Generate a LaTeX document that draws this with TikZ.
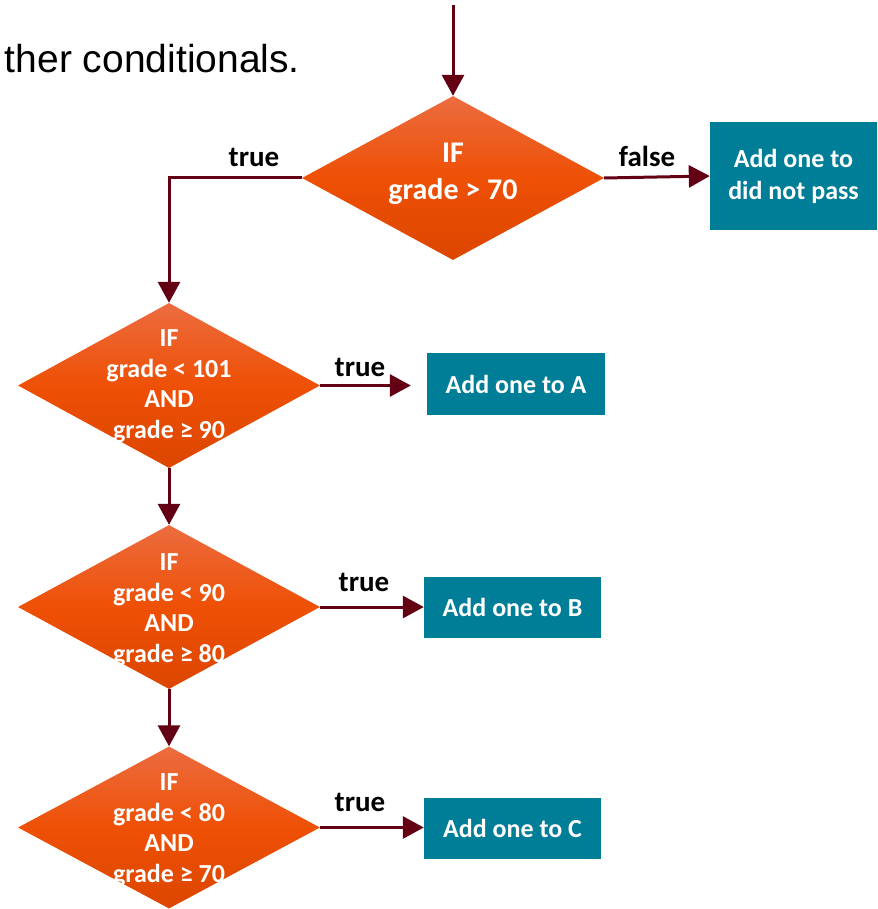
\documentclass[tikz,border=0pt]{standalone}
\usepackage{fontspec}
\setmainfont{Carlito}
\newfontfamily\arialfont{Liberation Sans}
\usetikzlibrary{shapes.geometric,arrows.meta}
\definecolor{arrowred}{RGB}{100,0,20}
\definecolor{boxteal}{RGB}{0,125,151}
\definecolor{ortop}{RGB}{236,108,64}
\definecolor{ormid}{RGB}{238,80,5}
\definecolor{orbot}{RGB}{220,70,0}
\begin{document}
\begin{tikzpicture}[x=1pt,y=-1pt,
 dia/.style={diamond, draw=none, inner sep=0pt, minimum width=302pt, minimum height=164pt,
   top color=ortop, bottom color=orbot, middle color=ormid},
 dtext/.style={text=white, font=\bfseries\fontsize{26}{30.5}\selectfont, align=center, anchor=base, inner sep=0pt},
 bigtext/.style={text=white, font=\bfseries\fontsize{30}{37}\selectfont, align=center, anchor=base, inner sep=0pt},
 tealbox/.style={rectangle, fill=boxteal, text=white, font=\bfseries\fontsize{26}{32}\selectfont,
   align=center, inner sep=0pt, minimum height=61pt, minimum width=177pt},
 lbl/.style={font=\bfseries\fontsize{29}{34}\selectfont, anchor=base, inner sep=0pt},
 arr/.style={draw=arrowred, line width=3pt, -{Triangle[length=21pt,width=22pt]}}]
\useasboundingbox[fill=white] (0,0) rectangle (877,909);

\node[font=\arialfont\fontsize{39}{45}\selectfont, anchor=base east, inner sep=0pt] (title) at (300,73) {ther conditionals.};

\coordinate (start) at (453,5);
\node[dia, minimum height=164pt] (d1) at (453,178) {};
\node[bigtext] (t1) at (453,200) {IF\\grade > 70};

\node[dia, minimum height=165pt] (d2) at (169,385.5) {};
\node[dtext] (t2) at (169,438) {IF\\grade < 101\\AND\\grade ≥ 90};

\node[dia, minimum height=164pt] (d3) at (169,607) {};
\node[dtext] (t3) at (169,662) {IF\\grade < 90\\AND\\grade ≥ 80};

\node[dia, minimum height=162pt] (d4) at (169,827.5) {};
\node[dtext] (t4) at (169,882) {IF\\grade < 80\\AND\\grade ≥ 70};

\node[tealbox, minimum width=167pt, minimum height=108pt] (b0) at (793.5,176) {Add one to\\did not pass};
\node[tealbox, minimum width=178pt, minimum height=62pt] (bA) at (516,384) {Add one to A};
\node[tealbox] (bB) at (512.5,607.5) {Add one to B};
\node[tealbox] (bC) at (512.5,828.5) {Add one to C};

\draw[arr] (start) -- (d1.north);
\draw[arr] (d1.west) -| (d2.north);
\draw[arr] (d1.east) -- (b0.west);
\draw[arr, shorten >=16pt] (d2.east) -- (d2.east -| bA.west);
\draw[arr] (d3.east) -- (d3.east -| bB.west);
\draw[arr] (d4.east) -- (d4.east -| bC.west);
\draw[arr] (d2.south) -- (d3.north);
\draw[arr] (d3.south) -- (d4.north);

\node[lbl] (l1) at (254,167) {true};
\node[lbl] (l2) at (647,167) {false};
\node[lbl] (l3) at (360,376) {true};
\node[lbl] (l4) at (364,591) {true};
\node[lbl] (l5) at (360,811) {true};
\end{tikzpicture}
\end{document}
